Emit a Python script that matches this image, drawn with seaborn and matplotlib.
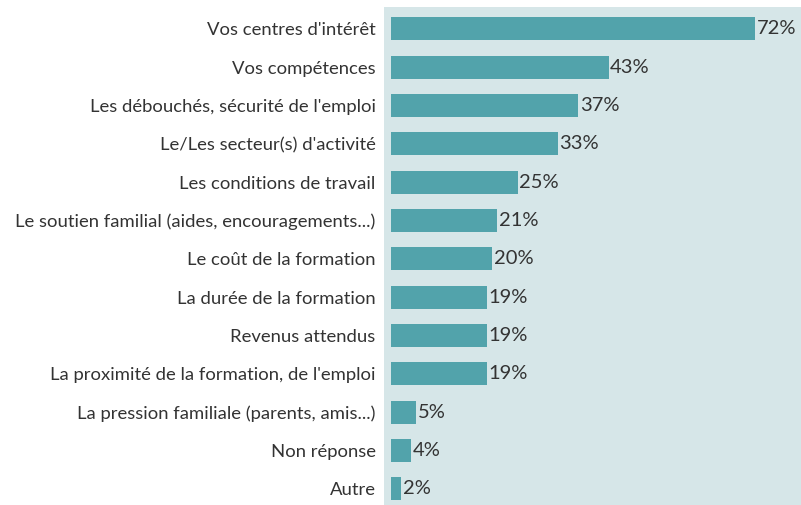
import pandas as pd
import matplotlib.pyplot as plt
import seaborn as sns

# data
criteres = [
    "Vos centres d'intérêt",
    "Vos compétences",
    "Les débouchés, sécurité de l'emploi",
    "Le/Les secteur(s) d'activité",
    "Les conditions de travail",
    "Le soutien familial (aides, encouragements...)",
    "Le coût de la formation",
    "La durée de la formation",
    "Revenus attendus",
    "La proximité de la formation, de l'emploi",
    "La pression familiale (parents, amis...)",
    "Non réponse",
    "Autre",
]
pourcentages = [72, 43, 37, 33, 25, 21, 20, 19, 19, 19, 5, 4, 2]

df = pd.DataFrame({'critere': criteres, 'pct': pourcentages})

sns.set_style('white')
plt.rcParams['font.family'] = ['Lato', 'DejaVu Sans']

fig = plt.figure(figsize=(8.01, 5.05), dpi=100)
ax = fig.add_axes([0.4794, 0.0, 0.5206, 0.986])
ax.set_facecolor('#d6e6e8')

sns.barplot(data=df, x='pct', y='critere', color='#52a3ab', width=0.6,
            saturation=1, linewidth=0, ax=ax)

for i, v in enumerate(df['pct']):
    ax.text(v + 0.3, i, f"{v}%", va='center', ha='left', fontsize=14.5, color='#333333')

ax.set_xlim(-1.4, 81)
ax.set_ylim(12.42, -0.57)
ax.set_xlabel('')
ax.set_ylabel('')
ax.set_xticks([])
ax.tick_params(axis='y', length=0, pad=6, labelsize=13.3, labelcolor='#333333')
for s in ax.spines.values():
    s.set_visible(False)

plt.savefig('out.png', dpi=100)
